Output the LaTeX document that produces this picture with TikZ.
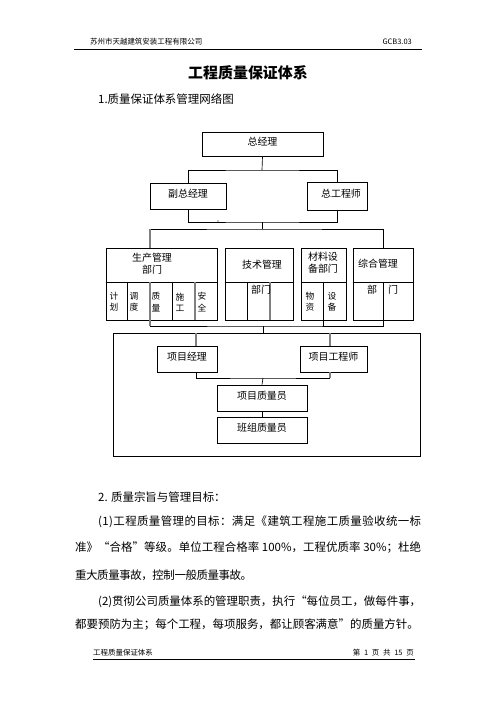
\documentclass[tikz,border=0pt]{standalone}
\usepackage{fontspec}
\setmainfont{Noto Sans CJK SC}
\usetikzlibrary{positioning}
\newdimen\pxu \pxu=0.42339mm
% spread a line of text over a given width
\def\sprd#1{\ifx\relax#1\else#1\hskip0pt plus 1fil minus 1fil\relax\expandafter\sprd\fi}
\newcommand\jline[2]{\makebox[#1\pxu][s]{\sprd#2\relax\unskip}}
\newcommand\up[1]{\raisebox{6\pxu}{#1}}
\newcommand\bodyfont{\fontsize{13.8pt}{16pt}\selectfont}
\newcommand\smallfont{\fontsize{9pt}{10pt}\selectfont}

\begin{document}
\begin{tikzpicture}[x=0.42339mm, y=-0.42339mm, font=\fontsize{12pt}{14.4pt}\selectfont,
  box/.style={draw, line width=0.8pt, inner sep=0pt},
  link/.style={line width=0.8pt},
  glink/.style={draw=gray, line width=1.5pt},
  txt/.style={inner sep=0pt}]
\useasboundingbox (0,0) rectangle (496,702);

% page head
\node[txt, anchor=west, font=\smallfont] (headl) at (90,42) {苏州市天越建筑安装工程有限公司};
\node[txt, anchor=east, font=\smallfont] (headr) at (412,42) {GCB3.03};
\draw[line width=0.9pt] (74,49) -- (422,49);
\node[txt, font=\fontsize{18pt}{20pt}\selectfont\bfseries] (title) at (248,73) {工程质量保证体系};
\node[txt, anchor=west, font=\bodyfont] (sec1) at (98,99) {1.质量保证体系管理网络图};

% top levels
\node[box, minimum width=121\pxu, minimum height=24\pxu] (zjl) at (262.5,144) {\up{总经理}};
\node[box, minimum width=76\pxu, minimum height=26\pxu] (fzjl) at (188,196) {\up{副总经理}};
\node[box, minimum width=60\pxu, minimum height=28\pxu] (zgcs) at (337,196) {\up{\hspace{8\pxu}总工程师}};

% departments
\node[box, minimum width=111\pxu, minimum height=72\pxu] (scgl) at (161.5,284) {};
\node[box, minimum width=68\pxu, minimum height=72\pxu] (jsgl) at (259,284) {};
\node[box, minimum width=45\pxu, minimum height=72\pxu] (clsb) at (323.5,284) {};
\node[box, minimum width=60\pxu, minimum height=72\pxu] (zhgl) at (383,284) {};
\coordinate (mid) at (0,282);
\foreach \b in {scgl,jsgl,clsb,zhgl}
  \draw[link] (\b.west |- mid) -- (\b.east |- mid);
\foreach \x in {127,172,247,323,383}
  \draw[link] (\x,282) -- (\x,320);
\foreach \x in {150,195,270}
  \draw[glink] (\x,282) -- (\x,320);

\node[txt, align=center] (scglT) at (152,264) {生产管理\\部门};
\node[txt] (jsglT) at (262,265) {技术管理};
\node[txt, align=center] (clsbT) at (323,263) {材料设\\备部门};
\node[txt] (zhglT) at (378,264) {综合管理};
\foreach \x/\t [count=\i] in {114/计\\划,134/调\\度,156/质\\量,180/施\\工,202/安\\全,310/物\\资,332/设\\备}
  \node[txt, align=center, font=\fontsize{10.5pt}{13.5pt}\selectfont] (col\i) at (\x,302) {\t};
\node[txt] (jsglB) at (261,290) {部门};
\node[txt] (zhglB1) at (372,290) {部};
\node[txt] (zhglB2) at (393,290) {门};

% project level
\node[box, minimum width=307\pxu, minimum height=123\pxu] (frame) at (266.5,394.5) {};
\node[box, minimum width=60\pxu, minimum height=26\pxu] (xmjl) at (187,359) {\up{项目经理}\hspace{6\pxu}};
\node[box, minimum width=67\pxu, minimum height=26\pxu] (xmgcs) at (333.5,359) {\up{项目工程师}};
\node[box, minimum width=90\pxu, minimum height=26\pxu] (xmzly) at (262,398) {\up{项目质量员}\hspace{6\pxu}};
\node[box, minimum width=90\pxu, minimum height=26\pxu] (bzzly) at (262,430) {\up{班组质量员}\hspace{6\pxu}};

% connectors
\coordinate (b1) at (262,170);
\coordinate (b2) at (262,222);
\coordinate (b3) at (262,229);
\coordinate (b4) at (263,326);
\coordinate (b5) at (263,378);
\coordinate (scglTop) at (150,248);
\coordinate (scglBot) at (150,320);
\coordinate (t1) at (196,346);
\coordinate (t2) at (330,346);
\draw[link] (zjl.south) -- (b1);
\draw[link] (fzjl.north) |- (b1) -| (zgcs.north);
\draw[link] (fzjl.south) |- (b2) -| (zgcs.south);
\draw[link] (b2) -- (b3);
\fill (218,221) circle (0.6);
\draw[link] (scglTop |- b3) -- (b3) -| (zhgl.north);
\draw[glink] (scglTop |- b3) -- (scglTop);
\draw[glink] (scglBot) -- (scglBot |- b4);
\draw[link] (scglBot |- b4) -- (b4) -| (zhgl.south);
\draw[link] (clsb.south) -- (clsb.south |- b4);
\draw[link] (b4) -- (b4 |- frame.north);
\draw[glink] (t1 |- frame.north) -- (t1);
\draw[glink] (t2 |- frame.north) -- (t2);
\draw[link] (t1 |- xmjl.south) |- (b5) -- (b5 -| t2);
\draw[glink] (t2 |- xmgcs.south) -- (t2 |- b5);
\draw[link] (b5) -- (xmzly.north);
\draw[link] (xmzly) -- (bzzly);

% text below
\node[txt, anchor=west, font=\bodyfont] (sec2) at (98,497) {2. 质量宗旨与管理目标：};
\node[txt, anchor=west, font=\bodyfont] (p1) at (98,522) {\jline{323}{(1)工程质量管理的目标：满足《建筑工程施工质量验收统一标}};
\node[txt, anchor=west, font=\bodyfont] (p2) at (75,548) {\jline{346}{准》“合格”等级。单位工程合格率~{100\%}，工程优质率~{30\%}；杜绝}};
\node[txt, anchor=west, font=\bodyfont] (p3) at (75,575) {\jline{177}{重大质量事故，控制一般质量事故。}};
\node[txt, anchor=west, font=\bodyfont] (p4) at (98,602) {\jline{323}{(2)贯彻公司质量体系的管理职责，执行“每位员工，做每件事，}};
\node[txt, anchor=west, font=\bodyfont] (p5) at (75,625) {都要预防为主；每个工程，每项服务，都让顾客满意”的质量方针。};

% page foot
\node[txt, anchor=west, font=\smallfont] (footl) at (93,653) {工程质量保证体系};
\node[txt, anchor=east, font=\smallfont] (footr) at (414,653) {\jline{61}{第1页共{15}页}};
\draw[line width=0.9pt] (93,659) -- (415,659);
\end{tikzpicture}
\end{document}
